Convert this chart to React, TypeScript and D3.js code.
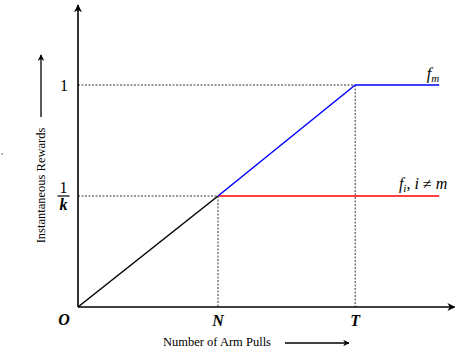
import * as d3 from "d3";

// x positions in "pulls" units, y in reward units
const xN = 50;
const xT = 99;
const xEnd = 129;
const xAxisEnd = 134.5;
const yInvK = 0.5;
const yOne = 1;
const yAxisEnd = 1.36;

const blackSeries: [number, number][] = [
  [0, 0],
  [xN, yInvK],
];
const blueSeries: [number, number][] = [
  [xN, yInvK],
  [xT, yOne],
  [xEnd, yOne],
];
const redSeries: [number, number][] = [
  [xN, yInvK],
  [xEnd, yInvK],
];

const math = "'Liberation Serif', 'DejaVu Serif', serif";

export default function App() {
  const width = 464;
  const height = 348;
  const x = d3.scaleLinear().domain([0, 100]).range([78, 358]);
  const y = d3.scaleLinear().domain([0, 1]).range([307, 85]);
  const line = d3
    .line<[number, number]>()
    .x((d) => x(d[0]))
    .y((d) => y(d[1]));

  return (
    <svg
      width={width}
      height={height}
      style={{ position: "absolute", left: 0, top: 0 }}
      fontFamily={math}
    >
      <defs>
        <marker
          id="ah"
          viewBox="0 0 10 10"
          refX="9"
          refY="5"
          markerWidth="5"
          markerHeight="5"
          orient="auto"
        >
          <path d="M0,0 L10,5 L0,10 L3,5 Z" fill="#000" />
        </marker>
      </defs>

      {/* guide lines */}
      <g stroke="#000" strokeWidth={0.8} strokeDasharray="2,1.5" fill="none">
        <line x1={x(0)} x2={x(xT)} y1={y(yOne)} y2={y(yOne)} />
        <line x1={x(0)} x2={x(xN)} y1={y(yInvK)} y2={y(yInvK)} />
        <line x1={x(xN)} x2={x(xN)} y1={y(yInvK)} y2={y(0)} />
        <line x1={x(xT)} x2={x(xT)} y1={y(yOne)} y2={y(0)} />
      </g>

      {/* axes */}
      <g stroke="#000" strokeWidth={1.6}>
        <line x1={x(0)} y1={y(0)} x2={x(xAxisEnd)} y2={y(0)} markerEnd="url(#ah)" />
        <line x1={x(0)} y1={y(0)} x2={x(0)} y2={y(yAxisEnd)} markerEnd="url(#ah)" />
      </g>

      {/* series */}
      <path d={line(blackSeries) ?? ""} stroke="#000" strokeWidth={1.5} fill="none" />
      <path d={line(redSeries) ?? ""} stroke="#ff0000" strokeWidth={1.5} fill="none" />
      <path d={line(blueSeries) ?? ""} stroke="#0000ff" strokeWidth={1.5} fill="none" strokeLinejoin="round" />

      {/* y tick labels */}
      <text x={64} y={y(yOne) + 6} fontSize={16} textAnchor="middle">
        1
      </text>
      <text x={63.5} y={y(yInvK) - 3} fontSize={16} textAnchor="middle">
        1
      </text>
      <line x1={57.5} x2={69.5} y1={y(yInvK)} y2={y(yInvK)} stroke="#000" strokeWidth={1.2} />
      <text x={63.5} y={y(yInvK) + 14} fontSize={16} fontWeight="bold" fontStyle="italic" textAnchor="middle">
        k
      </text>
      <text x={64} y={y(0) + 18} fontSize={16} fontWeight="bold" fontStyle="italic" textAnchor="middle">
        O
      </text>

      {/* x tick labels */}
      <text x={x(xN)} y={y(0) + 19} fontSize={16} fontWeight="bold" fontStyle="italic" textAnchor="middle">
        N
      </text>
      <text x={x(xT)} y={y(0) + 19} fontSize={16} fontWeight="bold" fontStyle="italic" textAnchor="middle">
        T
      </text>

      {/* series labels */}
      <text x={x(xEnd)} y={y(yOne) - 6} fontSize={16} fontStyle="italic" textAnchor="end">
        f<tspan fontSize={11} dy={3}>m</tspan>
      </text>
      <text x={x(xEnd) + 8} y={y(yInvK) - 7} fontSize={16} fontStyle="italic" textAnchor="end">
        f<tspan fontSize={11} dy={3}>i</tspan>
        <tspan dy={-3} fontStyle="normal">, </tspan>i<tspan fontStyle="normal"> ≠ </tspan>m
      </text>

      {/* axis titles */}
      <text
        transform="translate(45,185.5) rotate(-90)"
        fontSize={12.5}
        textAnchor="middle"
      >
        Instantaneous Rewards
      </text>
      <line x1={41} x2={41} y1={117} y2={55} stroke="#000" strokeWidth={1.3} markerEnd="url(#ah)" />
      <text x={217} y={346} fontSize={12.5} textAnchor="middle">
        Number of Arm Pulls
      </text>
      <line x1={285} x2={349} y1={343} y2={343} stroke="#000" strokeWidth={1.3} markerEnd="url(#ah)" />

      <line x1={1.5} x2={3} y1={154} y2={154} stroke="#444" strokeWidth={1} />
    </svg>
  );
}
